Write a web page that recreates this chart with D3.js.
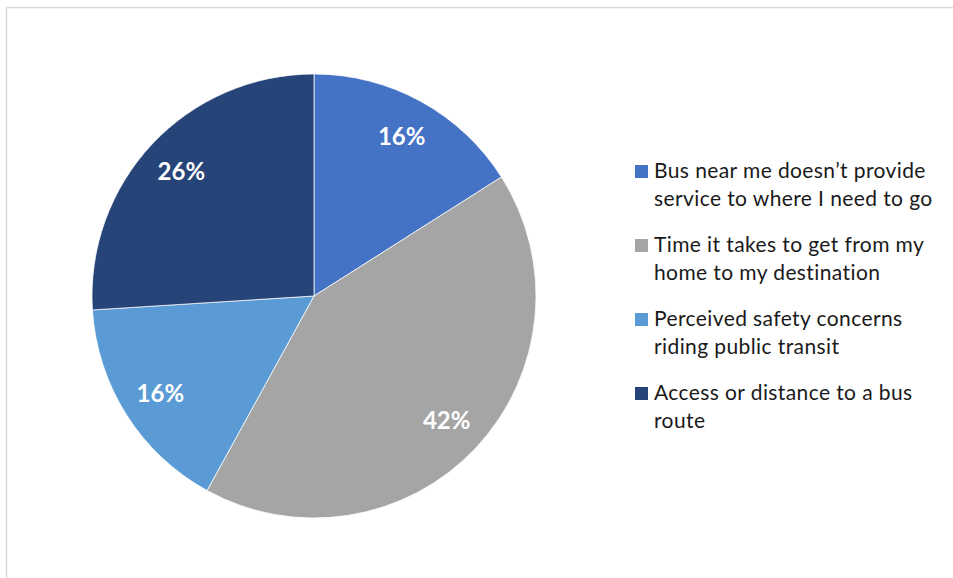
<!DOCTYPE html>
<html><head><meta charset="utf-8">
<script src="https://cdn.jsdelivr.net/npm/d3@7"></script>
<style>
html,body{margin:0;padding:0;background:#fff;}
svg{display:block;}
</style></head>
<body>
<script>
const categories = [
  ["Bus near me doesn\u2019t provide", "service to where I need to go"],
  ["Time it takes to get from my", "home to my destination"],
  ["Perceived safety concerns", "riding public transit"],
  ["Access or distance to a bus", "route"]
];
const values = [16, 42, 16, 26];
const labels = ["16%", "42%", "16%", "26%"];
const colors = ["#4472C4", "#A5A5A5", "#5B9BD5", "#264478"];

const W = 953, H = 578;
const svg = d3.select("body").append("svg").attr("width", W).attr("height", H);
svg.append("rect").attr("x", 6.5).attr("y", 7.5).attr("width", W).attr("height", H)
  .attr("fill", "#fff").attr("stroke", "#d9d9d9").attr("stroke-width", 1.5);

const cx = 314, cy = 296, R = 222;
const pie = d3.pie().sort(null).value(d => d)(values);
const arc = d3.arc().innerRadius(0).outerRadius(R);
const g = svg.append("g").attr("transform", `translate(${cx},${cy})`);
g.selectAll("path").data(pie).join("path")
  .attr("d", arc).attr("fill", (d, i) => colors[i])
  .attr("stroke", "#fff").attr("stroke-width", 0.75);

const labelArc = d3.arc().innerRadius(R * 0.82).outerRadius(R * 0.82);
g.selectAll("text.lbl").data(pie).join("text").attr("class", "lbl")
  .attr("transform", d => `translate(${labelArc.centroid(d)})`)
  .attr("text-anchor", "middle").attr("dy", "0.36em")
  .attr("fill", "#fff").attr("font-family", "Lato, 'Open Sans', sans-serif")
  .attr("font-weight", "bold").attr("font-size", 24)
  .text((d, i) => labels[i]);

const leg = svg.append("g");
const lx = 635, ly0 = 178, step = 74, lh = 28;
categories.forEach((lines, i) => {
  const y = ly0 + i * step;
  leg.append("rect").attr("x", lx).attr("y", y - 13).attr("width", 13).attr("height", 13).attr("fill", colors[i]);
  const t = leg.append("text").attr("x", lx + 19).attr("y", y)
    .attr("font-family", "Lato, 'Open Sans', sans-serif").attr("font-size", 21)
    .attr("letter-spacing", 0.4).attr("fill", "#1a1a1a");
  lines.forEach((l, j) => t.append("tspan").attr("x", lx + 19).attr("y", y + j * lh).text(l));
});
</script>
</body></html>
